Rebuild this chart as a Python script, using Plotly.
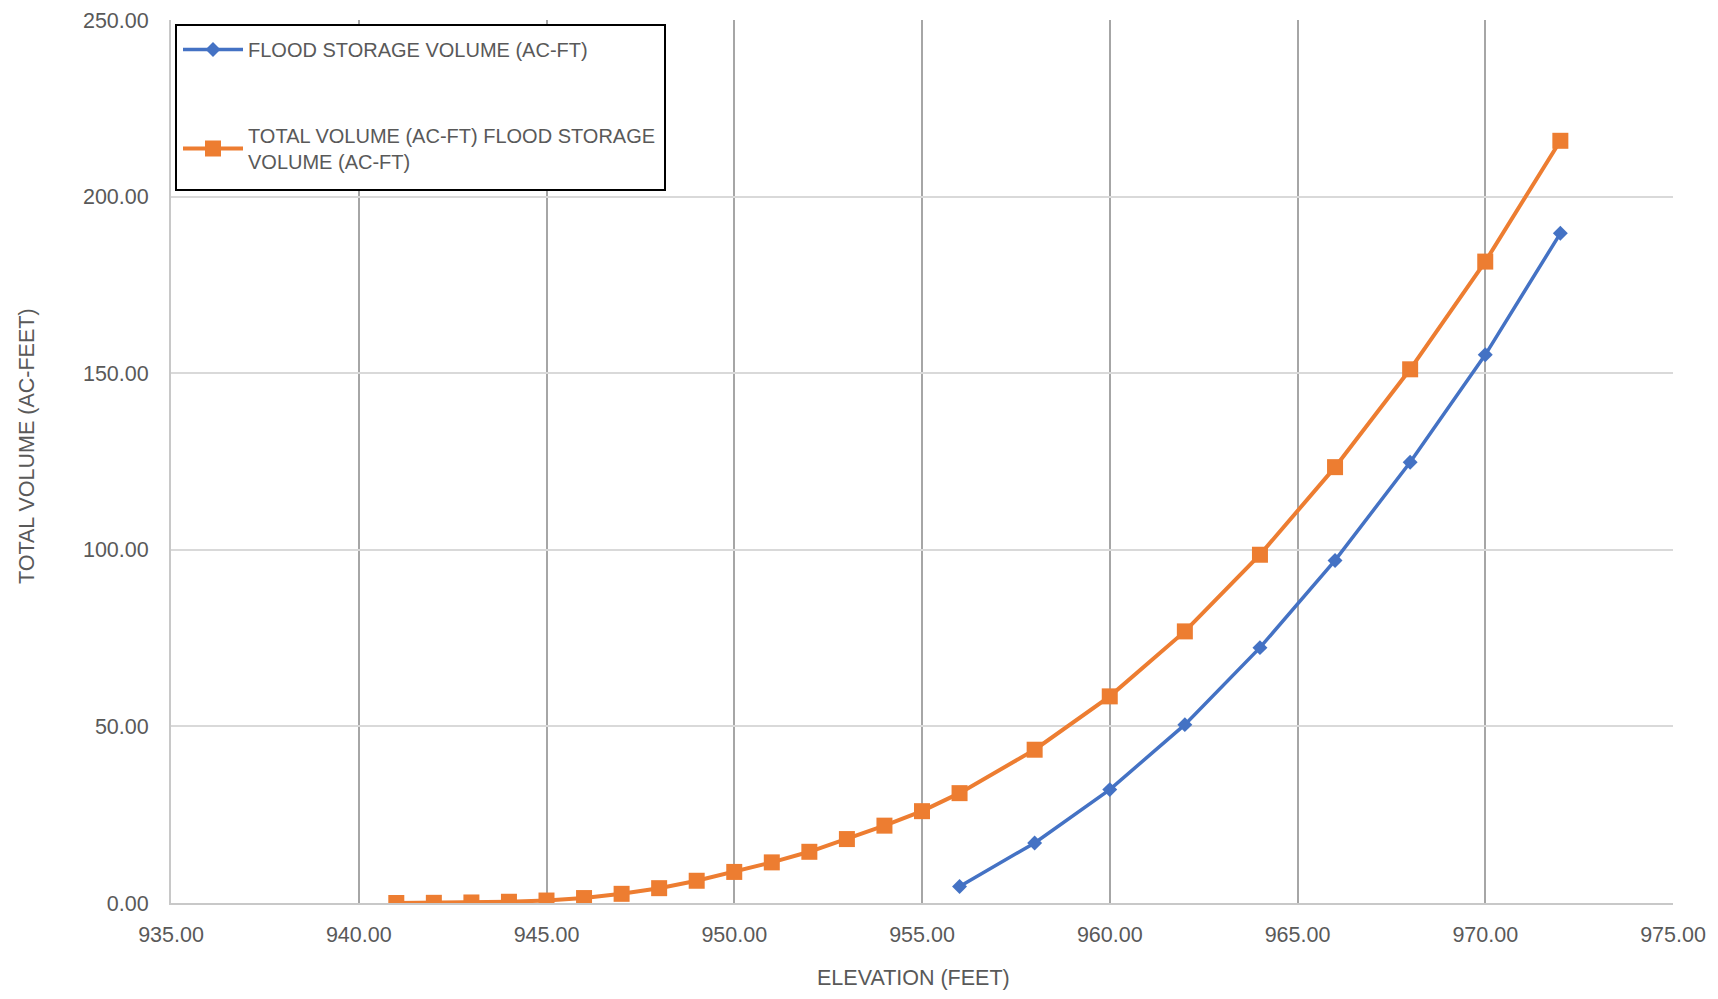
import plotly.graph_objects as go

# Elevation (ft) and volumes (ac-ft)
total_elev = [941, 942, 943, 944, 945, 946, 947, 948, 949, 950, 951, 952,
              953, 954, 955, 956, 958, 960, 962, 964, 966, 968, 970, 972]
total_vol = [0.0, 0.05, 0.15, 0.35, 0.7, 1.4, 2.6, 4.2, 6.3, 8.8, 11.5, 14.5,
             18.1, 21.9, 26.0, 31.1, 43.4, 58.5, 76.9, 98.6, 123.4, 151.1, 181.6, 215.8]

flood_elev = [956, 958, 960, 962, 964, 966, 968, 970, 972]
flood_vol = [4.7, 17.0, 32.1, 50.5, 72.3, 97.0, 124.8, 155.2, 189.6]

flood_name = "FLOOD STORAGE VOLUME (AC-FT)"
total_name = "TOTAL VOLUME (AC-FT) FLOOD STORAGE<br>VOLUME (AC-FT)"

FONT = "Liberation Sans, Arial, sans-serif"
TEXT = "#595959"

W, H = 1718, 999
ML, MR, MT, MB = 171, 45, 20, 96
pw, ph = W - ML - MR, H - MT - MB


def px_to_paper(px, py):
    return (px - ML) / pw, 1 - (py - MT) / ph


fig = go.Figure()
fig.add_trace(go.Scatter(
    x=flood_elev, y=flood_vol, name=flood_name, mode="lines+markers",
    line=dict(color="#4472C4", width=3.5),
    marker=dict(symbol="diamond", size=11.5, color="#4472C4"),
    legendgroup="a",
))
fig.add_trace(go.Scatter(
    x=total_elev, y=total_vol, name=total_name, mode="lines+markers",
    line=dict(color="#ED7D31", width=4),
    marker=dict(symbol="square", size=16, color="#ED7D31"),
    legendgroup="b",
))

# legend frame: white box with black border
bx0, by0 = px_to_paper(176, 25)
bx1, by1 = px_to_paper(665, 190)
fig.add_shape(type="rect", xref="paper", yref="paper",
              x0=bx0, y0=by1, x1=bx1, y1=by0,
              fillcolor="white", line=dict(color="black", width=2), layer="above")

lx, ly = px_to_paper(178, 30)
fig.update_layout(
    width=W, height=H,
    margin=dict(l=ML, r=MR, t=MT, b=MB, autoexpand=False),
    paper_bgcolor="white", plot_bgcolor="white",
    font=dict(family=FONT, color=TEXT, size=21),
    showlegend=True,
    legend=dict(
        x=lx, y=ly, xanchor="left", yanchor="top",
        bgcolor="rgba(0,0,0,0)", borderwidth=0,
        font=dict(family=FONT, size=20, color=TEXT),
        traceorder="grouped", tracegroupgap=57, itemwidth=60,
    ),
    xaxis=dict(
        range=[935, 975], dtick=5, tick0=935, tickformat=".2f",
        showgrid=True, gridcolor="#a6a6a6", gridwidth=1.5,
        showline=True, linecolor="#c8c8c8", linewidth=2,
        zeroline=False, ticks="", ticklabelstandoff=11, automargin=False,
        tickfont=dict(family=FONT, size=21.5, color=TEXT),
    ),
    yaxis=dict(
        range=[0, 250], dtick=50, tickformat=".2f",
        showgrid=True, gridcolor="#d9d9d9", gridwidth=2,
        showline=True, linecolor="#c8c8c8", linewidth=2,
        zeroline=False, ticks="", ticklabelstandoff=16, automargin=False,
        tickfont=dict(family=FONT, size=21.5, color=TEXT),
    ),
)

# axis titles
tx, ty = px_to_paper(913, 978)
fig.add_annotation(text="ELEVATION (FEET)", x=tx, y=ty, xref="paper", yref="paper",
                   xanchor="center", yanchor="middle", showarrow=False,
                   font=dict(family=FONT, size=21.5, color=TEXT))
tx, ty = px_to_paper(27, 446)
fig.add_annotation(text="TOTAL VOLUME (AC-FEET)", x=tx, y=ty, xref="paper", yref="paper",
                   xanchor="center", yanchor="middle", showarrow=False, textangle=-90,
                   font=dict(family=FONT, size=21.5, color=TEXT))

fig.write_html("out.html")
